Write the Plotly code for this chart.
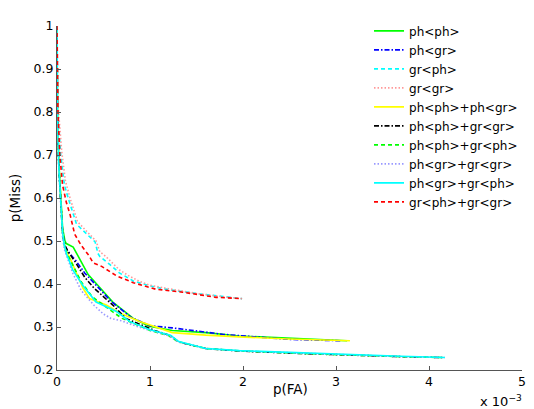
import plotly.graph_objects as go

# x values in units of 1e-3 (axis shows "x 10^-3")
names = ["ph<ph>", "ph<gr>", "gr<ph>", "gr<gr>", "ph<ph>+ph<gr>", "ph<ph>+gr<gr>",
         "ph<ph>+gr<ph>", "ph<gr>+gr<gr>", "ph<gr>+gr<ph>", "gr<ph>+gr<gr>"]

fa_ph_ph = [0, 0.005, 0.02, 0.04, 0.06, 0.085, 0.10, 0.174, 0.246, 0.335, 0.46, 0.60, 0.82, 0.99, 1.24, 1.6, 1.96, 2.49, 3.12]
miss_ph_ph = [1, 0.8, 0.68, 0.60, 0.53, 0.50, 0.494, 0.486, 0.456, 0.422, 0.392, 0.358, 0.32, 0.302, 0.292, 0.287, 0.279, 0.274, 0.268]

fa_ph_gr = [0, 0.005, 0.02, 0.04, 0.06, 0.08, 0.12, 0.2, 0.3, 0.43, 0.58, 0.8, 0.89, 1.0, 1.24, 1.78, 2.31, 2.52, 3.05]
miss_ph_gr = [1, 0.8, 0.67, 0.59, 0.52, 0.49, 0.475, 0.455, 0.425, 0.395, 0.36, 0.322, 0.313, 0.303, 0.298, 0.283, 0.274, 0.271, 0.268]

fa_gr_ph = [0, 0.01, 0.04, 0.08, 0.12, 0.21, 0.32, 0.41, 0.44, 0.46, 0.57, 0.67, 0.82, 0.99, 1.17, 1.53, 1.99]
miss_gr_ph = [1, 0.8, 0.70, 0.63, 0.60, 0.539, 0.516, 0.498, 0.471, 0.464, 0.445, 0.426, 0.407, 0.396, 0.388, 0.377, 0.366]

fa_gr_gr = [0, 0.01, 0.05, 0.09, 0.14, 0.22, 0.33, 0.42, 0.46, 0.52, 0.67, 0.78, 0.90, 1.0, 1.2, 1.5, 1.8, 1.99]
miss_gr_gr = [1, 0.82, 0.71, 0.64, 0.60, 0.545, 0.52, 0.50, 0.475, 0.465, 0.433, 0.418, 0.405, 0.397, 0.389, 0.378, 0.37, 0.366]

fa_phph_phgr = [0, 0.005, 0.02, 0.04, 0.06, 0.09, 0.14, 0.2, 0.28, 0.35, 0.53, 0.7, 0.89, 1.24, 1.6, 1.96, 2.49, 3.15]
miss_phph_phgr = [1, 0.8, 0.68, 0.59, 0.52, 0.48, 0.46, 0.43, 0.39, 0.366, 0.351, 0.33, 0.313, 0.287, 0.281, 0.277, 0.272, 0.268]

fa_phph_grgr = [0, 0.005, 0.02, 0.04, 0.06, 0.085, 0.12, 0.2, 0.3, 0.4, 0.5, 0.62, 0.74, 0.9, 1.05, 1.22, 1.31, 1.6, 1.96, 2.67, 3.2, 3.7, 4.15]
miss_phph_grgr = [1, 0.8, 0.67, 0.58, 0.52, 0.49, 0.475, 0.45, 0.415, 0.39, 0.37, 0.347, 0.32, 0.305, 0.292, 0.28, 0.265, 0.25, 0.244, 0.238, 0.234, 0.231, 0.229]

fa_phph_grph = [0, 0.005, 0.02, 0.04, 0.06, 0.08, 0.11, 0.18, 0.26, 0.38, 0.5, 0.6, 0.7, 0.85, 1.0, 1.2, 1.3, 1.6, 2.0, 2.7, 3.2, 3.7, 4.16]
miss_phph_grph = [1, 0.8, 0.67, 0.58, 0.52, 0.49, 0.47, 0.44, 0.405, 0.37, 0.35, 0.335, 0.32, 0.306, 0.292, 0.28, 0.266, 0.25, 0.244, 0.238, 0.234, 0.231, 0.229]

fa_phgr_grgr = [0, 0.005, 0.02, 0.04, 0.06, 0.08, 0.11, 0.17, 0.26, 0.4, 0.5, 0.58, 0.7, 0.85, 1.0, 1.2, 1.3, 1.6, 2.0, 2.7, 3.2, 3.7, 4.17]
miss_phgr_grgr = [1, 0.8, 0.66, 0.57, 0.51, 0.48, 0.46, 0.425, 0.385, 0.35, 0.33, 0.32, 0.314, 0.302, 0.292, 0.28, 0.266, 0.25, 0.244, 0.238, 0.234, 0.231, 0.229]

fa_phgr_grph = [0, 0.005, 0.02, 0.04, 0.06, 0.08, 0.10, 0.17, 0.28, 0.42, 0.64, 0.78, 0.99, 1.1, 1.22, 1.31, 1.6, 1.96, 2.67, 3.2, 3.7, 4.17]
miss_phgr_grph = [1, 0.8, 0.67, 0.58, 0.52, 0.49, 0.471, 0.433, 0.396, 0.358, 0.336, 0.313, 0.294, 0.288, 0.281, 0.266, 0.25, 0.245, 0.239, 0.235, 0.232, 0.229]

fa_grph_grgr = [0, 0.01, 0.03, 0.06, 0.10, 0.14, 0.19, 0.26, 0.34, 0.39, 0.48, 0.64, 0.82, 1.06, 1.35, 1.71, 1.99]
miss_grph_grgr = [1, 0.80, 0.70, 0.63, 0.59, 0.562, 0.516, 0.49, 0.467, 0.449, 0.441, 0.419, 0.403, 0.388, 0.381, 0.369, 0.366]

xs = [fa_ph_ph, fa_ph_gr, fa_gr_ph, fa_gr_gr, fa_phph_phgr, fa_phph_grgr,
      fa_phph_grph, fa_phgr_grgr, fa_phgr_grph, fa_grph_grgr]
ys = [miss_ph_ph, miss_ph_gr, miss_gr_ph, miss_gr_gr, miss_phph_phgr, miss_phph_grgr,
      miss_phph_grph, miss_phgr_grgr, miss_phgr_grph, miss_grph_grgr]

colors = ["#00ff00", "#0000ff", "#00ffff", "#ff9999", "#ffff00", "#000000",
          "#00ff00", "#9999ff", "#00ffff", "#ff0000"]
DASH = "4px,3px"
DOT = "1.5px,2px"
DASHDOT = "5px,2px,1.5px,2px"
dashes = ["solid", DASHDOT, DASH, DOT, "solid", DASHDOT,
          DASH, DOT, "solid", DASH]

x_ticks = [0, 1, 2, 3, 4, 5]
y_ticks = [0.2, 0.3, 0.4, 0.5, 0.6, 0.7, 0.8, 0.9, 1.0]
y_ticktext = ["0.2", "0.3", "0.4", "0.5", "0.6", "0.7", "0.8", "0.9", "1"]

fig = go.Figure()
for i in range(len(names)):
    fig.add_trace(go.Scatter(x=xs[i], y=ys[i], mode="lines", name=names[i],
                             line=dict(color=colors[i], dash=dashes[i], width=1.6)))

font = "DejaVu Sans, sans-serif"
# page has an 8px body margin, so the figure is 8px smaller than the window
fig.update_layout(
    width=526, height=401,
    margin=dict(l=49, r=9, t=8, b=39),
    paper_bgcolor="white", plot_bgcolor="white",
    font=dict(family=font, size=12.5, color="black"),
    showlegend=True,
    legend=dict(x=0.671, y=1.028, xanchor="left", yanchor="top",
                bgcolor="rgba(0,0,0,0)", borderwidth=0,
                font=dict(family=font, size=12.0, color="black"),
                tracegroupgap=0),
    xaxis=dict(range=[0, 5], tickvals=x_ticks, ticks="inside", ticklen=4,
               showgrid=False, zeroline=False, showline=True, linecolor="#555",
               linewidth=1, tickcolor="#555",
               tickfont=dict(family=font, size=12.5)),
    yaxis=dict(range=[0.2, 1.0], tickvals=y_ticks, ticktext=y_ticktext,
               ticks="inside", ticklen=4,
               showgrid=False, zeroline=False, showline=True, linecolor="#555",
               linewidth=1, tickcolor="#555",
               tickfont=dict(family=font, size=12.5)),
    annotations=[
        dict(text="p(FA)", x=0.503, y=-0.0565, xref="paper", yref="paper",
             xanchor="center", yanchor="middle", showarrow=False,
             font=dict(family=font, size=13.5)),
        dict(text="p(Miss)", x=-0.0897, y=0.5, xref="paper", yref="paper",
             xanchor="center", yanchor="middle", textangle=-90, showarrow=False,
             font=dict(family=font, size=13.5)),
        dict(text="x 10<sup>\u22123</sup>", x=1.004, y=-0.062, xref="paper", yref="paper",
             xanchor="right", yanchor="top", showarrow=False,
             font=dict(family=font, size=13)),
    ],
)

fig.write_html("out.html")
